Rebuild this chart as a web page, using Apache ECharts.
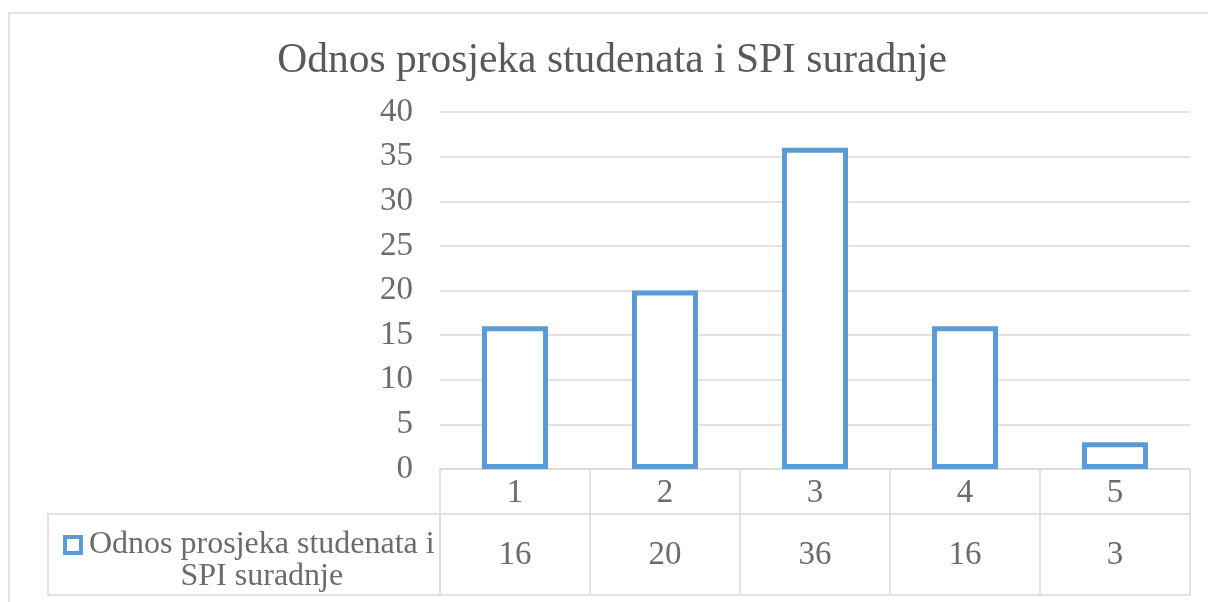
<!DOCTYPE html>
<html>
<head>
<meta charset="utf-8">
<script src="https://cdn.jsdelivr.net/npm/echarts@6/dist/echarts.min.js"></script>
<style>
  html, body { margin: 0; padding: 0; background: #fff; }
  #chart { width: 1208px; height: 602px; }
</style>
</head>
<body>
<div id="chart"></div>
<script>
const categories = ['1', '2', '3', '4', '5']
const values = [16, 20, 36, 16, 3]
const seriesName = 'Odnos prosjeka studenata i SPI suradnje'
const titleText = 'Odnos prosjeka studenata i SPI suradnje'

const font = '"Liberation Serif", "Times New Roman", serif'
const textGray = '#6b6b6b'
const lineGray = '#d9d9d9'

const chart = echarts.init(document.getElementById('chart'))
const option = {
  backgroundColor: '#fff',
  animation: false,
  title: {
    text: titleText,
    left: 607,
    textAlign: 'center',
    top: 35,
    textStyle: { fontFamily: font, fontSize: 41.5, fontWeight: 'normal', color: '#595959' }
  },
  grid: { left: 440, right: 18, top: 112, bottom: 133 },
  legend: {
    left: 58,
    top: 524,
    itemWidth: 16,
    itemHeight: 16,
    itemGap: 0,
    icon: 'rect',
    itemStyle: { color: '#fff', borderColor: '#5b9bd5', borderWidth: 4 },
    formatter: () => '{a|Odnos prosjeka studenata i}\n{a|SPI suradnje}',
    textStyle: {
      fontFamily: font,
      fontSize: 32,
      color: textGray,
      padding: [32, 0, 0, 3],
      rich: {
        a: { fontFamily: font, fontSize: 32, color: textGray, lineHeight: 32, align: 'center' }
      }
    }
  },
  xAxis: [
    {
      type: 'category',
      data: categories,
      position: 'bottom',
      axisLine: { show: true, lineStyle: { color: lineGray, width: 1.5 } },
      axisTick: { show: true, length: 45, lineStyle: { color: lineGray, width: 1.5 } },
      axisLabel: { margin: 8, fontFamily: font, fontSize: 33, color: textGray }
    },
    {
      type: 'category',
      data: categories,
      position: 'bottom',
      offset: 45,
      axisLine: { show: true, lineStyle: { color: lineGray, width: 1.5 } },
      axisTick: { show: true, length: 81, lineStyle: { color: lineGray, width: 1.5 } },
      axisLabel: {
        margin: 25,
        fontFamily: font,
        fontSize: 33,
        color: textGray,
        formatter: (v, i) => String(values[i])
      }
    },
    {
      type: 'category',
      data: categories,
      position: 'bottom',
      offset: 126,
      axisLine: { show: true, lineStyle: { color: lineGray, width: 1.5 } },
      axisTick: { show: false },
      axisLabel: { show: false }
    }
  ],
  yAxis: {
    type: 'value',
    min: 0,
    max: 40,
    interval: 5,
    axisLine: { show: false },
    axisTick: { show: false },
    axisLabel: { margin: 27, fontFamily: font, fontSize: 33, color: textGray },
    splitLine: { lineStyle: { color: lineGray, width: 1.5 } }
  },
  series: [
    {
      name: seriesName,
      type: 'bar',
      xAxisIndex: 0,
      data: values,
      barWidth: 66,
      itemStyle: { color: '#fff', borderColor: '#5b9bd5', borderWidth: 5 },
      z: 3
    }
  ],
  graphic: [
    {
      type: 'rect',
      shape: { x: 9, y: 13, width: 1230, height: 640 },
      style: { fill: 'none', stroke: lineGray, lineWidth: 1.5 },
      silent: true
    },
    {
      type: 'rect',
      shape: { x: 48, y: 514, width: 392, height: 81 },
      style: { fill: 'none', stroke: lineGray, lineWidth: 1.5 },
      silent: true
    }
  ]
}
chart.setOption(option)
</script>
</body>
</html>
